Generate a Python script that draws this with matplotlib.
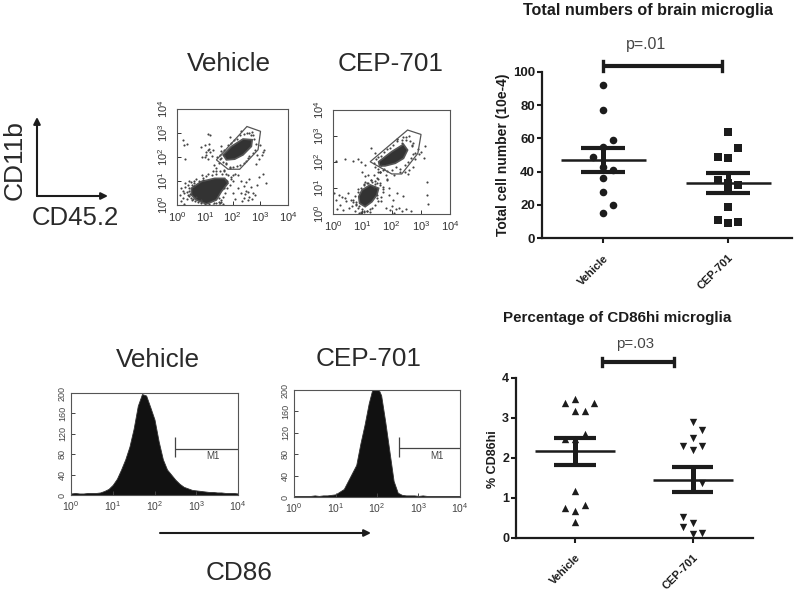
import matplotlib
import matplotlib.pyplot as plt
from matplotlib.patches import FancyArrowPatch, Polygon

matplotlib.use("Agg")
plt.rcParams["font.family"] = ["Liberation Sans", "DejaVu Sans"]
plt.rcParams["mathtext.default"] = "regular"

W, H = 800, 592
INK = "#1c1c1c"

# dot plots
groups = ["Vehicle", "CEP-701"]
cells_vehicle = [92, 77, 59, 55, 49, 43, 41, 36, 28, 20, 15]
cells_vehicle_col = [0, 0, 1, 0, -1, 0, 1, 0, 0, 1, 0]
cells_cep = [64, 54, 49, 48, 35, 33, 32, 30, 19, 11, 9, 10]
cells_cep_col = [0, 1, -1, 0, -1, 0, 1, 0, 0, -1, 0, 1]
cells_mean = [47, 33]
cells_low = [40, 27]
cells_high = [54, 39]

cd86_vehicle = [3.48, 3.38, 3.38, 3.17, 3.17, 2.59, 2.47, 2.47, 1.18, 0.83, 0.74, 0.68, 0.40]
cd86_vehicle_col = [0, -1, 2, 0, 1, 1, -1, 0, 0, 1, -1, 0, 0]
cd86_cep = [2.89, 2.69, 2.50, 2.30, 2.30, 2.20, 1.38, 0.52, 0.38, 0.27, 0.10, 0.12]
cd86_cep_col = [0, 1, 0, -1, 1, 0, 1, -1, 0, -1, 0, 1]
cd86_mean = [2.17, 1.45]
cd86_low = [1.83, 1.16]
cd86_high = [2.50, 1.76]

# flow cytometry, log10 units
decades = [0, 1, 2, 3, 4]
gate_veh = [(2.52, 3.27), (3.01, 3.07), (2.92, 2.30), (2.26, 1.49), (1.84, 1.49), (1.42, 1.88)]
gate_cep = [(2.55, 3.23), (3.01, 3.06), (2.90, 2.33), (2.35, 1.54), (2.01, 1.54), (1.27, 2.01)]

core_veh_low = [(0.52, 0.70), (0.88, 0.98), (1.36, 1.11), (1.72, 1.11), (1.84, 0.91), (1.60, 0.56),
                (1.42, 0.21), (1.06, 0.04), (0.70, 0.21), (0.52, 0.42)]
core_veh_high = [(1.66, 2.09), (1.96, 2.44), (2.38, 2.75), (2.71, 2.72), (2.68, 2.44), (2.38, 2.09),
                 (2.08, 1.91), (1.78, 1.88)]
core_cep_low = [(0.88, 0.67), (0.99, 0.92), (1.27, 1.12), (1.56, 0.99), (1.50, 0.73), (1.33, 0.47),
                (1.10, 0.28), (0.91, 0.41)]
core_cep_high = [(1.56, 2.01), (2.01, 2.40), (2.41, 2.68), (2.55, 2.46), (2.41, 2.14), (2.13, 1.95),
                 (1.78, 1.85), (1.59, 1.85)]

stray_veh_x = [0.15, 0.2, 0.25, 0.1, 0.3, 0.4, 0.2, 0.35, 0.45, 0.15, 0.5, 0.3, 0.6, 0.4, 0.55, 0.7, 0.45, 0.9, 0.25,
               1.1, 1.4, 1.7, 1.9, 2.0, 1.95, 1.8, 1.7, 1.5, 1.6, 2.2, 2.3, 2.4, 2.5, 2.6, 2.55, 2.4, 2.3, 2.7, 2.65,
               2.5, 2.35, 2.45, 2.75, 2.8, 2.6, 2.1, 2.0, 2.9, 3.1, 3.2, 2.55, 2.2, 2.95,
               0.2, 0.25, 0.3, 0.35, 1.0, 1.05, 1.1, 1.15, 1.2, 0.9, 1.25, 1.0, 1.15, 1.05, 0.85, 1.35, 1.3, 1.2, 1.1,
               1.6, 1.7, 1.55, 1.5, 1.9, 1.45, 3.1, 3.05, 3.15, 2.95, 3.0, 2.85, 2.6, 2.75, 1.3, 1.55, 1.65, 1.4,
               0.35, 0.42, 0.48, 0.55, 0.62, 0.7, 0.78, 0.85, 0.95, 1.05, 1.15, 1.25, 1.4, 1.5, 1.62, 1.75, 1.85, 1.95,
               2.02, 1.9, 1.8, 1.72, 1.65, 1.58, 1.5, 1.42, 1.33, 0.98, 0.85, 0.75, 0.65, 0.58, 0.5, 0.44, 0.6, 0.92,
               1.12, 1.28, 1.55, 1.68, 1.78, 2.1,
               1.55, 1.6, 1.7, 1.78, 1.85, 1.95, 2.05, 2.15, 2.28, 2.4, 2.52, 2.65, 2.78, 2.85, 2.82, 2.75, 2.6, 2.5,
               2.4, 2.28, 2.15, 2.0, 1.9, 1.75, 1.65, 1.6, 2.7, 2.9, 2.3, 2.55]
stray_veh_y = [0.7, 0.6, 0.5, 0.4, 0.75, 0.85, 0.3, 0.25, 0.6, 0.15, 0.95, 0.9, 0.8, 0.4, 0.2, 1.1, 1.0, 1.25, 0.05,
               1.9, 1.55, 1.4, 1.6, 1.25, 1.1, 1.0, 0.7, 0.3, 0.12, 0.7, 0.5, 0.3, 0.6, 0.35, 0.55, 0.8, 1.0, 0.25, 0.75,
               0.95, 0.15, 0.45, 0.5, 0.4, 1.1, 0.25, 0.5, 0.85, 1.3, 0.9, 0.2, 1.25, 1.15,
               2.7, 2.5, 1.9, 2.55, 2.0, 2.1, 2.3, 2.35, 2.2, 2.0, 2.05, 2.5, 2.55, 2.2, 2.4, 1.65, 2.3, 2.9, 2.95,
               2.45, 2.1, 1.9, 1.75, 2.85, 2.0, 2.2, 2.1, 2.3, 1.9, 2.5, 1.7, 3.0, 2.9, 0.02, 0.08, 0.05, 1.4,
               0.55, 0.72, 0.45, 0.82, 0.92, 0.33, 1.02, 0.22, 1.12, 1.2, 0.05, 1.25, 1.3, 0.02, 1.3, 1.3, 1.25, 1.15,
               1.0, 0.85, 0.7, 0.5, 0.35, 0.2, 0.12, 0.1, 0.08, 0.02, 0.08, 0.12, 0.18, 0.25, 0.3, 0.38, 1.0, 1.05,
               1.3, 1.4, 1.42, 1.45, 1.05, 1.3,
               2.1, 1.95, 2.3, 1.75, 2.5, 2.6, 2.7, 2.75, 2.9, 2.95, 3.0, 2.9, 2.75, 2.55, 2.3, 2.15, 2.05, 1.85,
               1.75, 1.65, 1.62, 1.6, 1.55, 1.7, 1.8, 2.25, 3.05, 2.1, 3.08, 1.95]
stray_cep_x = [0.1, 0.2, 0.3, 0.4, 0.25, 0.15, 0.45, 0.5, 0.6, 0.7, 0.55, 0.35, 0.05, 0.65, 0.8, 0.75, 0.9, 0.85,
               0.1, 0.4, 0.7, 0.85, 1.0, 1.2, 1.1, 0.95, 1.3, 1.45, 1.65, 1.75, 1.6, 1.9, 1.5, 1.55, 1.85, 1.7,
               1.5, 1.65, 1.8, 1.95, 2.1, 2.25, 2.05, 1.9, 2.0, 2.15, 2.35, 2.5, 2.65, 3.1, 3.15, 2.95, 3.2, 3.2, 3.25,
               2.55, 2.3, 2.1, 2.2, 2.35, 2.5, 2.7, 2.8, 2.75, 2.6, 2.45, 2.8, 1.35, 1.45, 1.3, 1.2, 1.05, 1.1,
               1.6, 1.5, 1.4, 1.55, 0.95, 1.05, 1.15, 1.25, 2.9, 3.0, 2.2, 2.4,
               0.7, 0.75, 0.8, 0.85, 0.9, 0.95, 1.0, 1.05, 1.15, 1.3, 1.45, 1.6, 1.7, 1.72, 1.65, 1.55, 1.45, 1.35,
               1.25, 1.15, 1.05, 0.95, 0.85, 0.78, 1.1, 1.4, 1.5, 1.6, 1.8, 1.85,
               1.4, 1.48, 1.55, 1.65, 1.75, 1.85, 1.95, 2.05, 2.2, 2.35, 2.5, 2.62, 2.7, 2.72, 2.65, 2.55, 2.45, 2.3,
               2.15, 2.0, 1.85, 1.7, 1.55, 1.45, 2.6, 2.75, 2.4, 2.2, 1.6]
stray_cep_y = [0.55, 0.75, 0.65, 0.6, 0.35, 0.2, 0.5, 0.8, 0.55, 0.45, 0.25, 0.15, 0.8, 0.3, 0.4, 0.1, 0.05, 0.95,
               2.05, 2.1, 2.05, 2.1, 1.6, 1.5, 1.9, 2.0, 2.55, 2.35, 1.9, 1.75, 1.1, 1.0, 1.2, 1.35, 1.3, 0.95,
               0.6, 0.5, 0.25, 0.15, 0.05, 0.25, 0.55, 0.75, 0.3, 0.2, 0.1, 0.2, 0.1, 2.15, 2.6, 2.3, 1.25, 0.75, 0.4,
               1.55, 1.6, 1.5, 2.9, 2.75, 2.95, 2.65, 2.35, 1.8, 1.7, 1.62, 2.1, 1.25, 1.15, 1.3, 1.2, 1.15, 1.25,
               1.6, 0.75, 1.05, 1.6, 0.03, 0.08, 0.12, 0.06, 2.5, 2.4, 0.8, 0.7,
               0.55, 0.7, 0.45, 0.85, 0.3, 1.0, 0.2, 1.1, 1.2, 1.3, 1.28, 1.2, 1.05, 0.85, 0.65, 0.5, 0.35, 0.25,
               0.18, 0.12, 0.1, 0.08, 0.25, 0.35, 1.45, 1.5, 1.4, 1.6, 1.5, 1.35,
               1.95, 2.1, 2.2, 2.25, 2.4, 2.5, 2.55, 2.65, 2.8, 2.85, 2.85, 2.8, 2.6, 2.3, 2.15, 2.0, 1.9, 1.75,
               1.8, 1.68, 1.65, 1.7, 1.72, 1.8, 3.0, 2.75, 2.98, 2.9, 1.6]

# histograms, log10 fluorescence against counts
hist_log = [round(i * 0.1, 1) for i in range(41)]
hist_veh = [3, 4, 3, 3, 4, 4, 4, 5, 8, 12, 20, 32, 50, 70, 95, 130, 175, 198, 195, 172, 148, 105, 70, 50, 40, 30,
            22, 16, 13, 10, 9, 8, 7, 6, 6, 5, 5, 4, 4, 4, 3]
hist_cep = [2, 2, 2, 2, 2, 3, 2, 3, 3, 4, 5, 10, 15, 30, 45, 60, 100, 135, 175, 205, 208, 190, 140, 85, 30, 8,
            4, 3, 3, 3, 2, 3, 2, 2, 2, 2, 2, 2, 2, 2, 2]
count_ticks = [0, 40, 80, 120, 160, 200]


def px_axes(fig, left, top, right, bottom):
    return fig.add_axes([left / W, 1 - bottom / H, (right - left) / W, (bottom - top) / H])


def px_text(fig, x, y, s, **kw):
    kw.setdefault("ha", "center")
    kw.setdefault("va", "center")
    kw.setdefault("color", INK)
    fig.text(x / W, 1 - y / H, s, **kw)


def dot_plot(ax, a, a_col, b, b_col, mean, low, high, ymax, yticks, marker, ms, step, ylab_size):
    ax.scatter([1 + c * step for c in a_col], a, marker=marker[0], s=ms, color=INK, linewidths=0, clip_on=False, zorder=3)
    ax.scatter([2 + c * step for c in b_col], b, marker=marker[1], s=ms, color=INK, linewidths=0, clip_on=False, zorder=3)
    for i in range(2):
        ax.hlines(mean[i], i + 1 - 0.34, i + 1 + 0.34, color=INK, lw=1.8, zorder=4)
        ax.hlines([low[i], high[i]], i + 1 - 0.175, i + 1 + 0.175, color=INK, lw=3, zorder=4)
        ax.vlines(i + 1, low[i], high[i], color=INK, lw=3.6, zorder=4)
    ax.set_ylim(0, ymax)
    ax.set_yticks(yticks)
    ax.set_xticks([1, 2])
    ax.set_xticklabels(groups, rotation=45, ha="right", rotation_mode="anchor", fontsize=8, fontweight="bold", color=INK)
    ax.tick_params(axis="both", width=1.5, length=3.5, color=INK)
    ax.tick_params(axis="x", pad=7)
    ax.tick_params(axis="y", labelsize=ylab_size, labelcolor=INK, pad=1.5)
    for lab in ax.get_yticklabels():
        lab.set_fontweight("bold")
    for side in ["top", "right"]:
        ax.spines[side].set_visible(False)
    for side in ["left", "bottom"]:
        ax.spines[side].set_linewidth(1.6)
        ax.spines[side].set_color(INK)


def bracket(ax, x0, x1, y, cap):
    ax.plot([x0, x1], [y, y], color=INK, lw=3, clip_on=False, solid_capstyle="butt")
    ax.plot([x0, x0], [y - cap, y + cap], color=INK, lw=2.4, clip_on=False)
    ax.plot([x1, x1], [y - cap, y + cap], color=INK, lw=2.4, clip_on=False)


def flow_plot(ax, gate, cores, sx, sy):
    ax.set_xscale("log")
    ax.set_yscale("log")
    ax.set_xlim(1, 1e4)
    ax.set_ylim(1, 1e4)
    for core in cores:
        ax.add_patch(Polygon([(10 ** x, 10 ** y) for x, y in core], closed=True, fc="#333333", ec="#555555", lw=1.2, zorder=2))
    ax.scatter([10 ** v for v in sx], [10 ** v for v in sy], s=2.4, color="#444444", linewidths=0, zorder=2)
    ax.add_patch(Polygon([(10 ** x, 10 ** y) for x, y in gate], closed=True, fc="none", ec="#555555", lw=0.9, zorder=3))
    ax.set_xticks([10 ** d for d in decades])
    ax.set_yticks([10 ** d for d in decades])
    ax.set_xticklabels([f"$10^{d}$" for d in decades], fontsize=8, color="#333333")
    ax.set_yticklabels([f"$10^{d}$" for d in decades], fontsize=8, color="#333333", rotation=90, va="center")
    ax.tick_params(axis="x", which="major", direction="in", length=3, width=0.7, pad=4, color="#333333")
    ax.tick_params(axis="y", which="major", direction="in", length=3, width=0.7, pad=5, color="#333333")
    ax.tick_params(axis="both", which="minor", direction="in", length=1.5, width=0.6, color="#333333")
    for spine in ax.spines.values():
        spine.set_linewidth(0.8)
        spine.set_color("#555555")


def hist_plot(ax, counts, ytop, m1_log, m1_text_log):
    ax.set_xscale("log")
    ax.set_xlim(1, 1e4)
    ax.set_ylim(0, ytop)
    xs = [10 ** v for v in hist_log]
    ax.fill_between(xs, counts, color="#111111", lw=0.6, edgecolor="#333333")
    ax.vlines(10 ** m1_log, 75, 113, color="#444444", lw=0.9)
    ax.hlines(91, 10 ** m1_log, 1e4, color="#444444", lw=0.9)
    ax.text(10 ** m1_text_log, 76, "M1", fontsize=7, color="#444444", ha="center", va="center")
    ax.set_xticks([10 ** d for d in decades])
    ax.set_xticklabels([f"$10^{d}$" for d in decades], fontsize=7.5, color="#444444")
    ax.set_yticks(count_ticks)
    ax.set_yticklabels(count_ticks, fontsize=6.5, color="#444444", rotation=90, va="center")
    ax.tick_params(axis="both", which="major", direction="in", length=3, width=0.7, pad=3, color="#444444")
    ax.tick_params(axis="both", which="minor", direction="in", length=1.5, width=0.6, color="#444444")
    for spine in ax.spines.values():
        spine.set_linewidth(0.8)
        spine.set_color("#555555")


fig = plt.figure(figsize=(W / 100, H / 100), dpi=100)

# top dot plot
ax1 = px_axes(fig, 542, 71.7, 792, 238.3)
ax1.set_xlim(0.512, 2.512)
dot_plot(ax1, cells_vehicle, cells_vehicle_col, cells_cep, cells_cep_col, cells_mean, cells_low, cells_high,
         100, [0, 20, 40, 60, 80, 100], ("o", "s"), 30, 0.083, 9.5)
bracket(ax1, 1.0, 1.955, 103.5, 3)
px_text(fig, 648, 11, "Total numbers of brain microglia", fontsize=11.6, fontweight="bold")
px_text(fig, 646, 45, "p=.01", fontsize=11.4, color="#444444")
px_text(fig, 503, 155, "Total cell number (10e-4)", fontsize=10, fontweight="bold", rotation=90)

# bottom dot plot
ax2 = px_axes(fig, 516, 377.7, 753, 538)
ax2.set_xlim(0.499, 2.512)
dot_plot(ax2, cd86_vehicle, cd86_vehicle_col, cd86_cep, cd86_cep_col, cd86_mean, cd86_low, cd86_high,
         4, [0, 1, 2, 3, 4], ("^", "v"), 28, 0.082, 9)
bracket(ax2, 1.23, 1.84, 4.4, 0.1)
px_text(fig, 617, 318, "Percentage of CD86hi microglia", fontsize=10.9, fontweight="bold")
px_text(fig, 635, 344, "p=.03", fontsize=10.8, color="#444444")
px_text(fig, 493, 459, "% CD86hi", fontsize=9, fontweight="bold", rotation=90)

# flow panels
flow_plot(px_axes(fig, 177, 109, 288, 205), gate_veh, [core_veh_low, core_veh_high], stray_veh_x, stray_veh_y)
flow_plot(px_axes(fig, 333, 110, 450, 214), gate_cep, [core_cep_low, core_cep_high], stray_cep_x, stray_cep_y)
hist_plot(px_axes(fig, 71, 393, 238, 495), hist_veh, 196, 2.5, 3.4)
hist_plot(px_axes(fig, 294, 390, 460, 497), hist_cep, 196, 2.53, 3.44)

# panel headings and axis cues
for x, y, s in [(229, 64, "Vehicle"), (391, 64, "CEP-701"), (158, 360, "Vehicle"), (369, 359, "CEP-701"), (239, 573, "CD86")]:
    px_text(fig, x, y, s, fontsize=18.8, color="#2a2a2a")
px_text(fig, 15, 160, "CD11b", fontsize=19, rotation=90, color="#2a2a2a")
px_text(fig, 75, 218, "CD45.2", fontsize=18.5, color="#2a2a2a")

for start, end in [((37, 196), (37, 117)), ((37, 196), (108, 196)), ((160, 533), (371, 533))]:
    fig.add_artist(FancyArrowPatch(
        (start[0] / W, 1 - start[1] / H), (end[0] / W, 1 - end[1] / H), transform=fig.transFigure,
        arrowstyle="-|>", mutation_scale=10, color=INK, lw=1.5, shrinkA=0, shrinkB=0))

fig.savefig("out.png", dpi=100)
plt.close(fig)
